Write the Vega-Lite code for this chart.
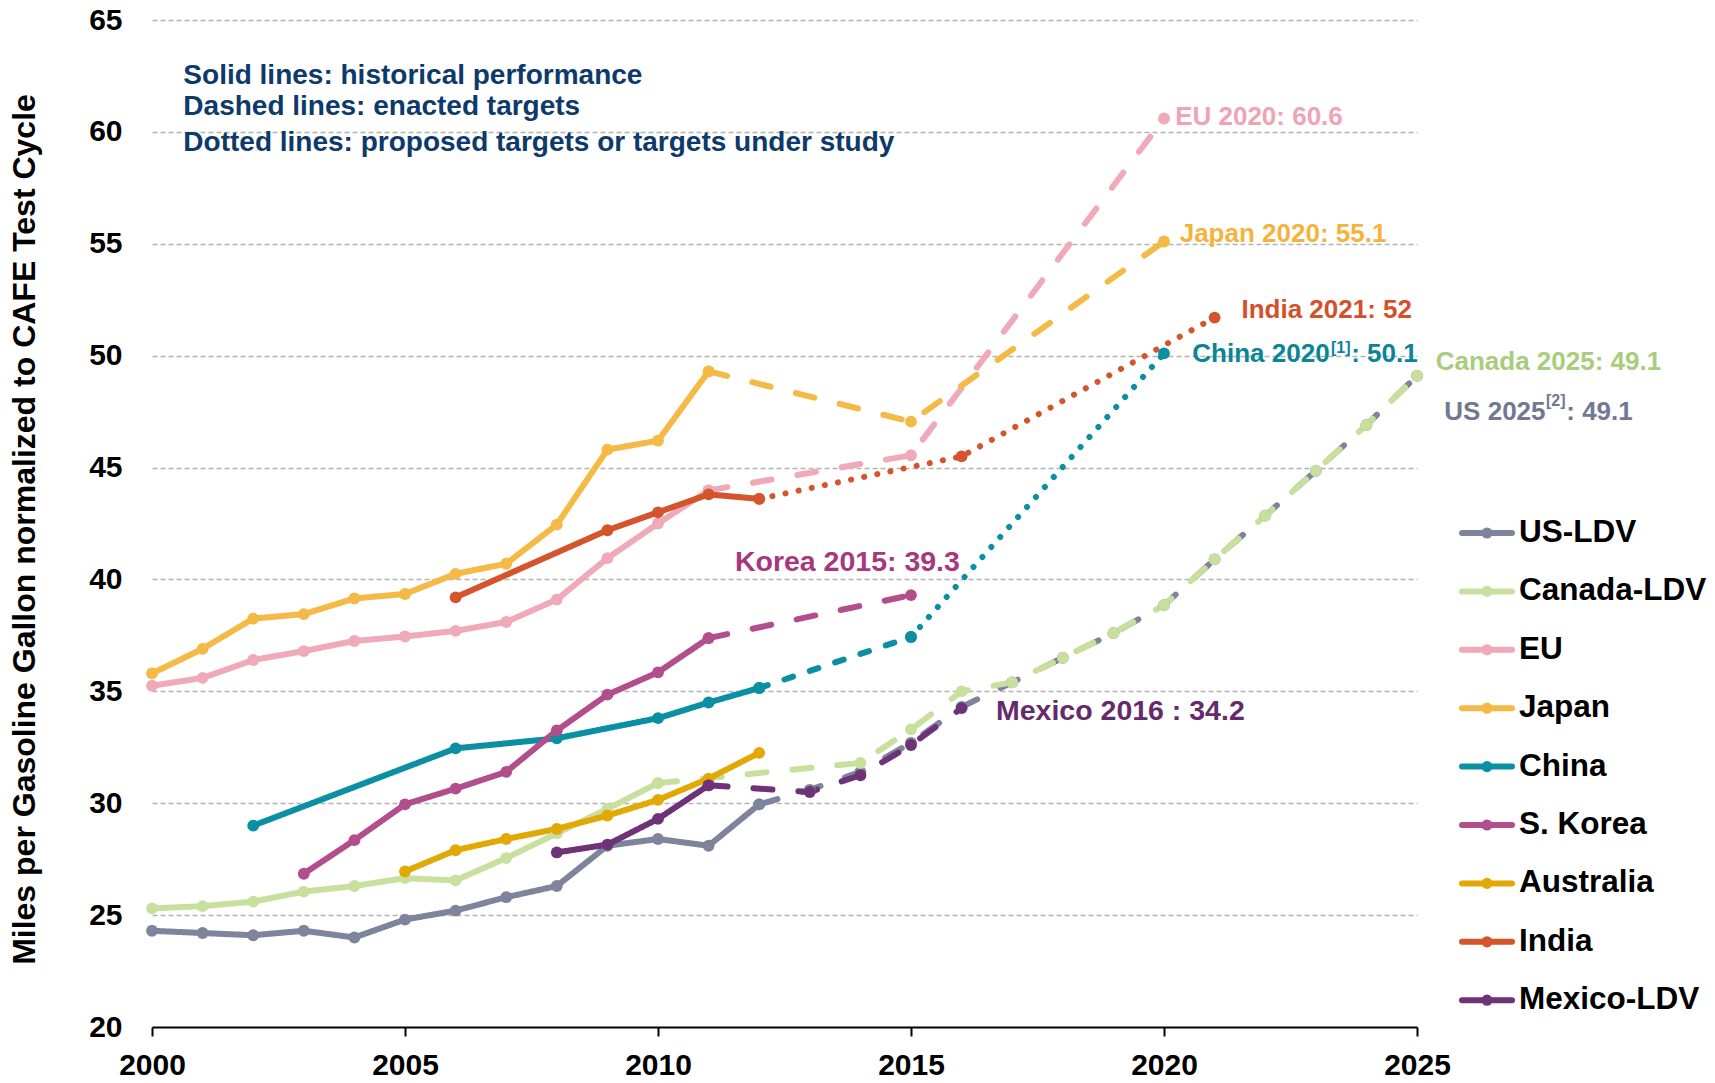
{
  "$schema": "https://vega.github.io/schema/vega-lite/v6.json",
  "width": 1265,
  "height": 1007,
  "autosize": {"type": "none"},
  "padding": {"left": 152, "top": 20, "right": 298, "bottom": 56},
  "background": "white",
  "config": {
    "view": {"stroke": null},
    "font": "Liberation Sans",
    "axis": {"labelFont": "Liberation Sans", "titleFont": "Liberation Sans"},
    "legend": {"labelFont": "Liberation Sans"}
  },
  "datasets": {
    "lines": [
      {"s": "US-LDV", "t": "historical", "yr": 2000, "v": 24.3},
      {"s": "US-LDV", "t": "historical", "yr": 2001, "v": 24.2},
      {"s": "US-LDV", "t": "historical", "yr": 2002, "v": 24.1},
      {"s": "US-LDV", "t": "historical", "yr": 2003, "v": 24.3},
      {"s": "US-LDV", "t": "historical", "yr": 2004, "v": 24.0},
      {"s": "US-LDV", "t": "historical", "yr": 2005, "v": 24.8},
      {"s": "US-LDV", "t": "historical", "yr": 2006, "v": 25.2},
      {"s": "US-LDV", "t": "historical", "yr": 2007, "v": 25.8},
      {"s": "US-LDV", "t": "historical", "yr": 2008, "v": 26.3},
      {"s": "US-LDV", "t": "historical", "yr": 2009, "v": 28.1},
      {"s": "US-LDV", "t": "historical", "yr": 2010, "v": 28.4},
      {"s": "US-LDV", "t": "historical", "yr": 2011, "v": 28.1},
      {"s": "US-LDV", "t": "historical", "yr": 2012, "v": 29.95},
      {"s": "US-LDV", "t": "enacted", "yr": 2012, "v": 29.95},
      {"s": "US-LDV", "t": "enacted", "yr": 2013, "v": 30.6},
      {"s": "US-LDV", "t": "enacted", "yr": 2014, "v": 31.4},
      {"s": "US-LDV", "t": "enacted", "yr": 2015, "v": 32.7},
      {"s": "US-LDV", "t": "enacted", "yr": 2016, "v": 34.3},
      {"s": "US-LDV", "t": "enacted", "yr": 2017, "v": 35.4},
      {"s": "US-LDV", "t": "enacted", "yr": 2018, "v": 36.5},
      {"s": "US-LDV", "t": "enacted", "yr": 2019, "v": 37.6},
      {"s": "US-LDV", "t": "enacted", "yr": 2020, "v": 38.85},
      {"s": "US-LDV", "t": "enacted", "yr": 2021, "v": 40.9},
      {"s": "US-LDV", "t": "enacted", "yr": 2022, "v": 42.85},
      {"s": "US-LDV", "t": "enacted", "yr": 2023, "v": 44.85},
      {"s": "US-LDV", "t": "enacted", "yr": 2024, "v": 46.9},
      {"s": "US-LDV", "t": "enacted", "yr": 2025, "v": 49.1},

      {"s": "Canada-LDV", "t": "historical", "yr": 2000, "v": 25.3},
      {"s": "Canada-LDV", "t": "historical", "yr": 2001, "v": 25.4},
      {"s": "Canada-LDV", "t": "historical", "yr": 2002, "v": 25.6},
      {"s": "Canada-LDV", "t": "historical", "yr": 2003, "v": 26.05},
      {"s": "Canada-LDV", "t": "historical", "yr": 2004, "v": 26.3},
      {"s": "Canada-LDV", "t": "historical", "yr": 2005, "v": 26.65},
      {"s": "Canada-LDV", "t": "historical", "yr": 2006, "v": 26.55},
      {"s": "Canada-LDV", "t": "historical", "yr": 2007, "v": 27.55},
      {"s": "Canada-LDV", "t": "historical", "yr": 2008, "v": 28.65},
      {"s": "Canada-LDV", "t": "historical", "yr": 2009, "v": 29.75},
      {"s": "Canada-LDV", "t": "historical", "yr": 2010, "v": 30.9},
      {"s": "Canada-LDV", "t": "enacted", "yr": 2010, "v": 30.9},
      {"s": "Canada-LDV", "t": "enacted", "yr": 2014, "v": 31.8},
      {"s": "Canada-LDV", "t": "enacted", "yr": 2015, "v": 33.3},
      {"s": "Canada-LDV", "t": "enacted", "yr": 2016, "v": 35.0},
      {"s": "Canada-LDV", "t": "enacted", "yr": 2017, "v": 35.4},
      {"s": "Canada-LDV", "t": "enacted", "yr": 2018, "v": 36.5},
      {"s": "Canada-LDV", "t": "enacted", "yr": 2019, "v": 37.6},
      {"s": "Canada-LDV", "t": "enacted", "yr": 2020, "v": 38.85},
      {"s": "Canada-LDV", "t": "enacted", "yr": 2021, "v": 40.9},
      {"s": "Canada-LDV", "t": "enacted", "yr": 2022, "v": 42.85},
      {"s": "Canada-LDV", "t": "enacted", "yr": 2023, "v": 44.85},
      {"s": "Canada-LDV", "t": "enacted", "yr": 2024, "v": 46.9},
      {"s": "Canada-LDV", "t": "enacted", "yr": 2025, "v": 49.1},

      {"s": "EU", "t": "historical", "yr": 2000, "v": 35.25},
      {"s": "EU", "t": "historical", "yr": 2001, "v": 35.6},
      {"s": "EU", "t": "historical", "yr": 2002, "v": 36.4},
      {"s": "EU", "t": "historical", "yr": 2003, "v": 36.8},
      {"s": "EU", "t": "historical", "yr": 2004, "v": 37.25},
      {"s": "EU", "t": "historical", "yr": 2005, "v": 37.45},
      {"s": "EU", "t": "historical", "yr": 2006, "v": 37.7},
      {"s": "EU", "t": "historical", "yr": 2007, "v": 38.1},
      {"s": "EU", "t": "historical", "yr": 2008, "v": 39.1},
      {"s": "EU", "t": "historical", "yr": 2009, "v": 40.95},
      {"s": "EU", "t": "historical", "yr": 2010, "v": 42.5},
      {"s": "EU", "t": "historical", "yr": 2011, "v": 43.98},
      {"s": "EU", "t": "enacted", "yr": 2011, "v": 43.98},
      {"s": "EU", "t": "enacted", "yr": 2015, "v": 45.55},
      {"s": "EU", "t": "enacted", "yr": 2020, "v": 60.6},

      {"s": "Japan", "t": "historical", "yr": 2000, "v": 35.8},
      {"s": "Japan", "t": "historical", "yr": 2001, "v": 36.9},
      {"s": "Japan", "t": "historical", "yr": 2002, "v": 38.25},
      {"s": "Japan", "t": "historical", "yr": 2003, "v": 38.45},
      {"s": "Japan", "t": "historical", "yr": 2004, "v": 39.15},
      {"s": "Japan", "t": "historical", "yr": 2005, "v": 39.35},
      {"s": "Japan", "t": "historical", "yr": 2006, "v": 40.25},
      {"s": "Japan", "t": "historical", "yr": 2007, "v": 40.7},
      {"s": "Japan", "t": "historical", "yr": 2008, "v": 42.45},
      {"s": "Japan", "t": "historical", "yr": 2009, "v": 45.8},
      {"s": "Japan", "t": "historical", "yr": 2010, "v": 46.2},
      {"s": "Japan", "t": "historical", "yr": 2011, "v": 49.3},
      {"s": "Japan", "t": "enacted", "yr": 2011, "v": 49.3},
      {"s": "Japan", "t": "enacted", "yr": 2015, "v": 47.05},
      {"s": "Japan", "t": "enacted", "yr": 2020, "v": 55.1},

      {"s": "China", "t": "historical", "yr": 2002, "v": 29.0},
      {"s": "China", "t": "historical", "yr": 2006, "v": 32.45},
      {"s": "China", "t": "historical", "yr": 2008, "v": 32.9},
      {"s": "China", "t": "historical", "yr": 2010, "v": 33.8},
      {"s": "China", "t": "historical", "yr": 2011, "v": 34.5},
      {"s": "China", "t": "historical", "yr": 2012, "v": 35.15},
      {"s": "China", "t": "enacted", "yr": 2012, "v": 35.15},
      {"s": "China", "t": "enacted", "yr": 2015, "v": 37.43},
      {"s": "China", "t": "proposed", "yr": 2015, "v": 37.43},
      {"s": "China", "t": "proposed", "yr": 2020, "v": 50.1},

      {"s": "S. Korea", "t": "historical", "yr": 2003, "v": 26.85},
      {"s": "S. Korea", "t": "historical", "yr": 2004, "v": 28.35},
      {"s": "S. Korea", "t": "historical", "yr": 2005, "v": 29.95},
      {"s": "S. Korea", "t": "historical", "yr": 2006, "v": 30.65},
      {"s": "S. Korea", "t": "historical", "yr": 2007, "v": 31.4},
      {"s": "S. Korea", "t": "historical", "yr": 2008, "v": 33.25},
      {"s": "S. Korea", "t": "historical", "yr": 2009, "v": 34.85},
      {"s": "S. Korea", "t": "historical", "yr": 2010, "v": 35.85},
      {"s": "S. Korea", "t": "historical", "yr": 2011, "v": 37.38},
      {"s": "S. Korea", "t": "enacted", "yr": 2011, "v": 37.38},
      {"s": "S. Korea", "t": "enacted", "yr": 2015, "v": 39.3},

      {"s": "Australia", "t": "historical", "yr": 2005, "v": 26.95},
      {"s": "Australia", "t": "historical", "yr": 2006, "v": 27.9},
      {"s": "Australia", "t": "historical", "yr": 2007, "v": 28.4},
      {"s": "Australia", "t": "historical", "yr": 2008, "v": 28.85},
      {"s": "Australia", "t": "historical", "yr": 2009, "v": 29.45},
      {"s": "Australia", "t": "historical", "yr": 2010, "v": 30.15},
      {"s": "Australia", "t": "historical", "yr": 2011, "v": 31.1},
      {"s": "Australia", "t": "historical", "yr": 2012, "v": 32.25},

      {"s": "India", "t": "historical", "yr": 2006, "v": 39.2},
      {"s": "India", "t": "historical", "yr": 2009, "v": 42.2},
      {"s": "India", "t": "historical", "yr": 2010, "v": 43.0},
      {"s": "India", "t": "historical", "yr": 2011, "v": 43.8},
      {"s": "India", "t": "historical", "yr": 2012, "v": 43.6},
      {"s": "India", "t": "proposed", "yr": 2012, "v": 43.6},
      {"s": "India", "t": "proposed", "yr": 2016, "v": 45.5},
      {"s": "India", "t": "proposed", "yr": 2021, "v": 51.7},

      {"s": "Mexico-LDV", "t": "historical", "yr": 2008, "v": 27.8},
      {"s": "Mexico-LDV", "t": "historical", "yr": 2009, "v": 28.15},
      {"s": "Mexico-LDV", "t": "historical", "yr": 2010, "v": 29.3},
      {"s": "Mexico-LDV", "t": "historical", "yr": 2011, "v": 30.8},
      {"s": "Mexico-LDV", "t": "enacted", "yr": 2011, "v": 30.8},
      {"s": "Mexico-LDV", "t": "enacted", "yr": 2013, "v": 30.5},
      {"s": "Mexico-LDV", "t": "enacted", "yr": 2014, "v": 31.25},
      {"s": "Mexico-LDV", "t": "enacted", "yr": 2015, "v": 32.6},
      {"s": "Mexico-LDV", "t": "enacted", "yr": 2016, "v": 34.25}
    ],
    "notes": [
      {"txt": "Solid lines: historical performance", "yr": 2000.62, "v": 62.15},
      {"txt": "Dashed lines: enacted targets", "yr": 2000.62, "v": 60.74},
      {"txt": "Dotted lines: proposed targets or targets under study", "yr": 2000.62, "v": 59.15}
    ],
    "labels": [
      {"txt": "EU 2020: 60.6", "s": "EU", "yr": 2020.22, "v": 60.33},
      {"txt": "Japan 2020: 55.1", "s": "Japan", "yr": 2020.31, "v": 55.08},
      {"txt": "India 2021: 52", "s": "India", "yr": 2021.53, "v": 51.7},
      {"txt": "China 2020", "s": "China", "yr": 2020.56, "v": 49.71},
      {"txt": ": 50.1", "s": "China", "yr": 2023.7, "v": 49.71},
      {"txt": "Canada 2025: 49.1", "s": "Canada-LDV", "yr": 2025.37, "v": 49.34},
      {"txt": "US 2025", "s": "US-LDV", "yr": 2025.54, "v": 47.11},
      {"txt": ": 49.1", "s": "US-LDV", "yr": 2027.95, "v": 47.11}
    ],
    "biglabels": [
      {"txt": "Korea 2015: 39.3", "s": "S. Korea", "yr": 2011.52, "v": 40.37},
      {"txt": "Mexico 2016 : 34.2", "s": "Mexico-LDV", "yr": 2016.68, "v": 33.74}
    ],
    "sups": [
      {"txt": "[1]", "s": "China", "yr": 2023.3, "v": 50.1},
      {"txt": "[2]", "s": "US-LDV", "yr": 2027.55, "v": 47.76}
    ]
  },
  "encoding": {
    "x": {
      "field": "yr", "type": "quantitative",
      "scale": {"domain": [2000, 2025], "nice": false, "zero": false},
      "axis": {
        "values": [2000, 2005, 2010, 2015, 2020, 2025],
        "format": "d", "title": null, "grid": false,
        "domainColor": "#000000", "domainWidth": 2,
        "tickColor": "#000000", "tickWidth": 2, "tickSize": 9,
        "labelFontSize": 30, "labelFontWeight": "bold", "labelColor": "#000000",
        "labelPadding": 14, "labelFlush": false, "labelOverlap": false, "labelBound": false
      }
    },
    "y": {
      "field": "v", "type": "quantitative",
      "scale": {"domain": [20, 65], "nice": false, "zero": false},
      "axis": {
        "values": [20, 25, 30, 35, 40, 45, 50, 55, 60, 65],
        "title": "Miles per Gasoline Gallon normalized to CAFE Test Cycle",
        "domain": false, "ticks": false, "grid": true,
        "gridColor": {"condition": {"test": "datum.value === 20", "value": "transparent"}, "value": "#b3b3b3"},
        "gridDash": [5, 3], "gridWidth": 1.5,
        "labelFontSize": 30, "labelFontWeight": "bold", "labelColor": "#000000", "labelPadding": 30,
        "labelOverlap": false, "labelBound": false,
        "titleFontSize": 32, "titleFontWeight": "bold", "titleColor": "#000000",
        "titleX": -118, "titleY": 509, "titleAngle": -90,
        "titleBaseline": "alphabetic", "titleAlign": "center"
      }
    }
  },
  "layer": [
    {
      "data": {"values": [{}]},
      "mark": {"type": "rect", "fill": "white", "stroke": null},
      "encoding": {
        "x": {"datum": 2000.47, "type": "quantitative"},
        "x2": {"datum": 2015.22},
        "y": {"datum": 58.8, "type": "quantitative"},
        "y2": {"datum": 63.8}
      }
    },
    {
      "data": {"name": "lines"},
      "transform": [{"filter": "!(datum.s === 'China' && datum.t === 'enacted')"}],
      "mark": {"type": "line", "strokeWidth": 6, "strokeCap": "round", "strokeJoin": "round"},
      "encoding": {
        "color": {
          "field": "s", "type": "nominal",
          "scale": {
            "domain": ["US-LDV", "Canada-LDV", "EU", "Japan", "China", "S. Korea", "Australia", "India", "Mexico-LDV"],
            "range": ["#7e849b", "#c8e09e", "#f0a9b8", "#f5b945", "#0a8fa3", "#b24e8b", "#e2a905", "#d4552b", "#6e3277"]
          },
          "legend": {
            "title": null, "orient": "none", "legendX": 1312, "legendY": 490,
            "labelFontSize": 31.5, "labelFontWeight": "bold", "labelColor": "#000000", "labelLimit": 0,
            "symbolType": "M-1.25,0L1.25,0M-0.13,0A0.13,0.13 0 1,0 0.13,0A0.13,0.13 0 1,0 -0.13,0Z",
            "symbolSize": 1600, "symbolStrokeWidth": 6, "symbolOpacity": 1,
            "rowPadding": 19.4, "labelOffset": 9, "padding": 0,
            "encode": {"symbols": {"update": {"fill": {"scale": "color", "field": "value"}, "stroke": {"scale": "color", "field": "value"}, "strokeCap": {"value": "round"}}}}
          }
        },
        "strokeDash": {
          "field": "t", "type": "nominal",
          "scale": {"domain": ["historical", "enacted", "proposed"], "range": [[1, 0], [19, 26], [0.1, 13.3]]},
          "legend": null
        }
      }
    },
    {
      "data": {"name": "lines"},
      "transform": [{"filter": "datum.s === 'China' && datum.t === 'enacted'"}],
      "mark": {"type": "line", "strokeWidth": 6, "strokeCap": "round", "strokeDash": [9, 17.7]},
      "encoding": {
        "color": {"field": "s", "type": "nominal", "legend": null}
      }
    },
    {
      "data": {"name": "lines"},
      "mark": {"type": "point", "filled": true, "size": 140, "opacity": 1},
      "encoding": {
        "color": {"field": "s", "type": "nominal", "legend": null}
      }
    },
    {
      "data": {"name": "notes"},
      "mark": {"type": "text", "align": "left", "baseline": "alphabetic", "fontSize": 28, "fontWeight": "bold", "fill": "#0d3a6b"},
      "encoding": {"text": {"field": "txt"}}
    },
    {
      "data": {"name": "labels"},
      "mark": {"type": "text", "align": "left", "baseline": "alphabetic", "fontSize": 26, "fontWeight": "bold"},
      "encoding": {
        "text": {"field": "txt"},
        "fill": {
          "field": "s", "type": "nominal",
          "scale": {
            "domain": ["US-LDV", "Canada-LDV", "EU", "Japan", "China", "S. Korea", "Australia", "India", "Mexico-LDV"],
            "range": ["#727891", "#a8cd7c", "#f0a3b5", "#f5b33c", "#0a8497", "#a8387d", "#e2a905", "#d4502a", "#642a6c"]
          },
          "legend": null
        }
      }
    },
    {
      "data": {"name": "biglabels"},
      "mark": {"type": "text", "align": "left", "baseline": "alphabetic", "fontSize": 28.5, "fontWeight": "bold"},
      "encoding": {
        "text": {"field": "txt"},
        "fill": {"field": "s", "type": "nominal", "legend": null}
      }
    },
    {
      "data": {"name": "sups"},
      "mark": {"type": "text", "align": "left", "baseline": "alphabetic", "fontSize": 16, "fontWeight": "bold"},
      "encoding": {
        "text": {"field": "txt"},
        "fill": {"field": "s", "type": "nominal", "legend": null}
      }
    }
  ]
}
